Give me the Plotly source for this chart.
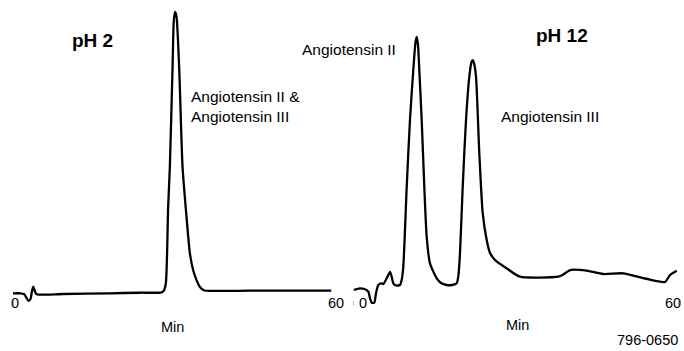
import plotly.graph_objects as go

# Retention time (min) and detector response (arbitrary units), pH 2 run
ph2_time = [0.00, 1.32, 2.07, 2.45, 2.88, 3.29, 3.57, 3.82, 4.14, 4.46, 9.40, 18.24,
            23.89, 27.97, 28.40, 28.78, 29.21, 29.53, 30.04, 30.28, 30.53, 30.79, 31.28,
            31.92, 32.67, 33.29, 33.91, 34.55, 35.08, 35.49, 36.11, 44.58, 59.94]
ph2_signal = [-0.1, -0.1, -0.36, -1.43, -2.75, -2.14, 0.71, 2.25, 0.54, -0.46, -0.36, -0.1,
              0.1, 0.25, 0.89, 3.57, 30.7, 45.0, 80.7, 97.5, 100.4, 98.6, 80.7,
              45.0, 27.1, 14.3, 8.2, 4.6, 2.5, 1.6, 0.9, 0.82, 0.82]

# Retention time (min) and detector response (arbitrary units), pH 12 run
ph12_time = [0.00, 1.20, 2.12, 2.73, 3.04, 3.35, 3.83, 4.15, 4.57, 5.20, 5.49, 6.12, 6.73,
             7.04, 7.34, 7.83, 8.57, 8.88, 9.18, 9.81, 10.41, 11.02, 11.43, 11.65, 11.89,
             12.13, 12.57, 13.05, 13.49, 14.10, 15.34, 16.13, 17.18, 18.16, 19.02, 19.35,
             19.63, 20.13, 20.74, 21.35, 21.75, 21.97, 22.21, 22.58, 23.19, 23.82, 24.55,
             25.16, 26.08, 28.24, 30.69, 37.75, 38.80, 39.91, 42.99, 46.05, 49.73, 53.73,
             57.42, 58.34, 59.58]
ph12_signal = [1.07, 1.68, 1.32, 0.46, -1.89, -3.46, -3.46, -0.11, 2.86, 3.46, 3.21, 5.25, 7.5,
               5.82, 3.46, 2.68, 2.86, 4.64, 9.39, 37.96, 61.8, 79.6, 89.6, 91.5, 88.6,
               79.6, 61.8, 37.96, 20.1, 10.6, 5.25, 3.57, 2.86, 2.86, 3.46, 6.43,
               14.2, 37.96, 61.8, 77.25, 82.5, 83.2, 82.1, 77.25, 49.9, 28.5, 18.9,
               14.3, 11.8, 8.8, 5.82, 5.82, 6.79, 8.21, 7.96, 6.79, 7.04, 5.18,
               3.93, 6.43, 7.96]

axis_ticks = [0, 60]
tick_labels = ["0", "60"]

W, H = 684, 351
FONT = "Liberation Sans, Arial, Helvetica, sans-serif"
LINE = dict(color="black", width=2.3, shape="spline", smoothing=0.6)

fig = go.Figure()
fig.add_trace(go.Scatter(x=ph2_time, y=ph2_signal, mode="lines", line=LINE,
                         xaxis="x", yaxis="y", hoverinfo="skip"))
fig.add_trace(go.Scatter(x=ph12_time, y=ph12_signal, mode="lines", line=LINE,
                         xaxis="x2", yaxis="y", hoverinfo="skip"))

# small tick marks under each trace
for ax in ("x", "x2"):
    fig.add_trace(go.Scatter(x=axis_ticks, y=[-3.6, -3.6], mode="markers",
                             marker=dict(symbol="line-ns", size=3,
                                         line=dict(color="#777", width=1)),
                             xaxis=ax, yaxis="y", hoverinfo="skip"))

hidden = dict(visible=False, range=[0, 60], fixedrange=True)
fig.update_layout(
    width=W, height=H,
    margin=dict(l=0, r=0, t=0, b=0),
    paper_bgcolor="white", plot_bgcolor="white",
    showlegend=False,
    xaxis=dict(domain=[13 / W, 331.7 / W], anchor="y", **hidden),
    xaxis2=dict(domain=[353.5 / W, 679 / W], anchor="y", **hidden),
    yaxis=dict(visible=False, range=[-20.71, 104.64], domain=[0, 1], fixedrange=True),
    font=dict(family=FONT, color="black"),
)

def py(y):
    return 1 - y / H

ann = []
# tick labels
shifts = {"x": [1.5, 4], "x2": [9.5, -6]}
for ax in ("x", "x2"):
    for val, lab, sh in zip(axis_ticks, tick_labels, shifts[ax]):
        ann.append(dict(x=val, xref=ax, y=py(313), yref="paper", text=lab,
                        showarrow=False, xshift=sh, font=dict(size=14.5)))

def txt(x, y, text, size=14.5, bold=False, xanchor="center", align="center"):
    if bold:
        text = "<b>" + text + "</b>"
    ann.append(dict(x=x / W, xref="paper", y=py(y), yref="paper", text=text,
                    showarrow=False, xanchor=xanchor, yanchor="middle", align=align,
                    font=dict(size=size)))

txt(172, 327, "Min")
txt(517, 325, "Min")
txt(647, 340, "796-0650")
txt(92, 41, "pH 2", size=19, bold=True)
txt(562, 35, "pH 12", size=19, bold=True)
txt(349, 50, "Angiotensin II", size=15.5)
txt(550, 117, "Angiotensin III", size=15.5)
txt(189, 107, "Angiotensin II &amp;<br>Angiotensin III", size=15.5,
    xanchor="left", align="left")

fig.update_layout(annotations=ann)
fig.write_html("out.html")
